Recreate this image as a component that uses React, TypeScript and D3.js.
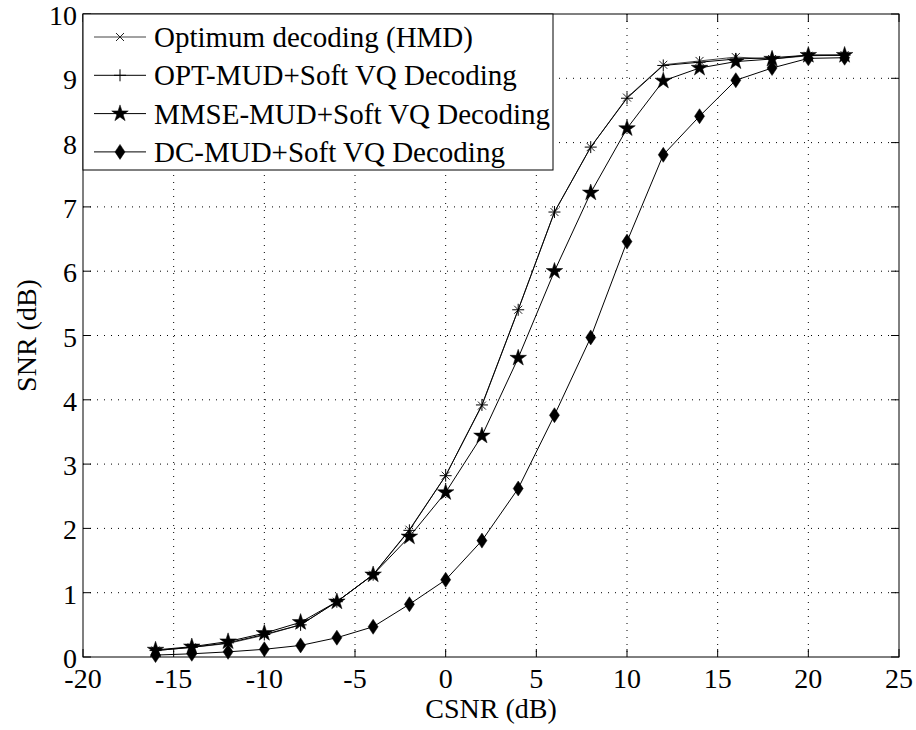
import React from "react";
import * as d3 from "d3";

const xValues = [-16, -14, -12, -10, -8, -6, -4, -2, 0, 2, 4, 6, 8, 10, 12, 14, 16, 18, 20, 22];
const hmd = [0.1, 0.15, 0.21, 0.34, 0.5, 0.86, 1.28, 1.98, 2.82, 3.91, 5.4, 6.92, 7.93, 8.7, 9.21, 9.27, 9.33, 9.3, 9.35, 9.36];
const optMud = [0.1, 0.15, 0.22, 0.35, 0.5, 0.86, 1.28, 1.97, 2.82, 3.92, 5.4, 6.92, 7.93, 8.69, 9.2, 9.25, 9.3, 9.32, 9.36, 9.36];
const mmseMud = [0.11, 0.16, 0.24, 0.37, 0.54, 0.86, 1.28, 1.87, 2.56, 3.44, 4.65, 6.0, 7.22, 8.22, 8.96, 9.16, 9.26, 9.3, 9.36, 9.36];
const dcMud = [0.03, 0.05, 0.08, 0.12, 0.18, 0.3, 0.47, 0.82, 1.2, 1.81, 2.62, 3.76, 4.97, 6.46, 7.81, 8.41, 8.97, 9.16, 9.31, 9.32];
const seriesNames = [
  "Optimum decoding (HMD)",
  "OPT-MUD+Soft VQ Decoding",
  "MMSE-MUD+Soft VQ Decoding",
  "DC-MUD+Soft VQ Decoding",
];
const xTicks = [-20, -15, -10, -5, 0, 5, 10, 15, 20, 25];
const yTicks = [0, 1, 2, 3, 4, 5, 6, 7, 8, 9, 10];

const L = 83, R = 899, T = 14, B = 657;
const FONT = "'Liberation Serif', 'Times New Roman', Times, serif";
const FS = 28;
const LFS = 29;

function Marker({ kind, x, y }: { kind: string; x: number; y: number }) {
  if (kind === "x") {
    const s = 4;
    return <path d={`M${x - s},${y - s}L${x + s},${y + s}M${x - s},${y + s}L${x + s},${y - s}`} stroke="#222" strokeWidth={1} fill="none" />;
  }
  if (kind === "+") {
    const s = 6;
    return <path d={`M${x - s},${y}L${x + s},${y}M${x},${y - s}L${x},${y + s}`} stroke="#000" strokeWidth={1} fill="none" />;
  }
  if (kind === "star") {
    const p = d3.symbol().type(d3.symbolStar).size(85)();
    return <path d={p || ""} transform={`translate(${x},${y})`} fill="#000" stroke="#000" strokeWidth={0.5} />;
  }
  const w = 5, h = 7.5;
  return <path d={`M${x},${y - h}L${x + w},${y}L${x},${y + h}L${x - w},${y}Z`} fill="#000" stroke="#000" strokeWidth={0.5} />;
}

export default function App() {
  const x = d3.scaleLinear().domain([-20, 25]).range([L, R]);
  const y = d3.scaleLinear().domain([0, 10]).range([B, T]);
  const series = [
    { name: seriesNames[0], vals: hmd, kind: "x", color: "#444" },
    { name: seriesNames[1], vals: optMud, kind: "+", color: "#000" },
    { name: seriesNames[2], vals: mmseMud, kind: "star", color: "#000" },
    { name: seriesNames[3], vals: dcMud, kind: "diamond", color: "#000" },
  ];
  const line = d3.line<number>().x((_, i) => x(xValues[i])).y((v) => y(v));
  const tickLen = 8;
  return (
    <svg width={916} height={730} style={{ display: "block", position: "absolute", left: 0, top: 0, fontFamily: FONT }}>
      <rect width={916} height={730} fill="#fff" />
      {xTicks.slice(1, -1).map((t) => (
        <line key={"gx" + t} x1={x(t)} x2={x(t)} y1={T} y2={B} stroke="#000" strokeWidth={1} strokeDasharray="1,6" />
      ))}
      {yTicks.slice(1, -1).map((t) => (
        <line key={"gy" + t} x1={L} x2={R} y1={y(t)} y2={y(t)} stroke="#000" strokeWidth={1} strokeDasharray="1,6" />
      ))}
      {xTicks.map((t) => (
        <g key={"tx" + t}>
          <line x1={x(t)} x2={x(t)} y1={B} y2={B - tickLen} stroke="#000" />
          <line x1={x(t)} x2={x(t)} y1={T} y2={T + tickLen} stroke="#000" />
          <text x={x(t)} y={B + 31} textAnchor="middle" fontSize={FS} style={{ fontFamily: FONT }}>{t}</text>
        </g>
      ))}
      {yTicks.map((t) => (
        <g key={"ty" + t}>
          <line x1={L} x2={L + tickLen} y1={y(t)} y2={y(t)} stroke="#000" />
          <line x1={R} x2={R - tickLen} y1={y(t)} y2={y(t)} stroke="#000" />
          <text x={L - 6} y={y(t) + 11} textAnchor="end" fontSize={FS} style={{ fontFamily: FONT }}>{t}</text>
        </g>
      ))}
      {series.map((s) => (
        <g key={s.name}>
          <path d={line(s.vals) || ""} fill="none" stroke={s.color} strokeWidth={1} />
          {s.vals.map((v, i) => (
            <Marker key={i} kind={s.kind} x={x(xValues[i])} y={y(v)} />
          ))}
        </g>
      ))}
      <rect x={L} y={T} width={R - L} height={B - T} fill="none" stroke="#000" strokeWidth={1} />
      <g>
        <rect x={L} y={T} width={553 - L} height={170 - T} fill="#fff" stroke="#000" strokeWidth={1} />
        {series.map((s, i) => {
          const cy = T + 23 + i * 38.3;
          return (
            <g key={"lg" + i}>
              <line x1={94} x2={146} y1={cy} y2={cy} stroke={s.color} strokeWidth={1} />
              <Marker kind={s.kind} x={120} y={cy} />
              <text x={154} y={cy + 10} fontSize={LFS} style={{ fontFamily: FONT }}>{s.name}</text>
            </g>
          );
        })}
      </g>
      <text x={(L + R) / 2} y={718} textAnchor="middle" fontSize={FS} style={{ fontFamily: FONT }}>CSNR (dB)</text>
      <text transform={`translate(36,${(T + B) / 2}) rotate(-90)`} textAnchor="middle" fontSize={FS} style={{ fontFamily: FONT }}>SNR (dB)</text>
    </svg>
  );
}
